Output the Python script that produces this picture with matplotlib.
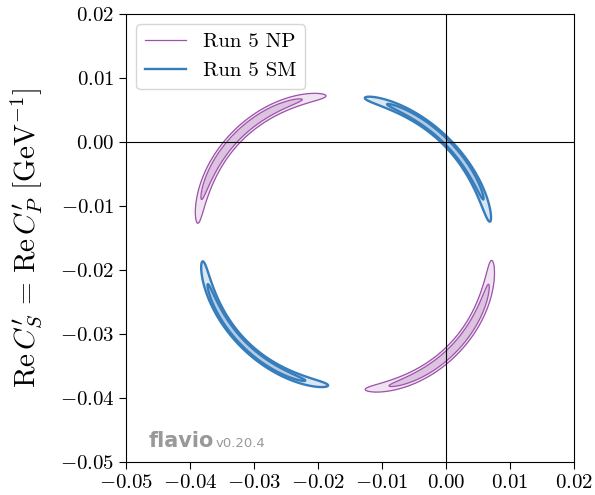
import numpy as np
import matplotlib
matplotlib.use('Agg')
from matplotlib import pyplot as plt
from matplotlib.lines import Line2D

plt.rcParams['font.family'] = 'serif'
plt.rcParams['font.serif'] = ['cmr10']
plt.rcParams['mathtext.fontset'] = 'cm'
plt.rcParams['axes.formatter.use_mathtext'] = True

# centre of the ring (Bs -> mumu rate)
centre = (-0.0158, -0.0158)

labels = ['Run 5 NP', 'Run 5 SM']
line_colors = ['#9d52aa', '#367dbb']
fill_colors = [['#dcc4e1', '#efe3f2'], ['#b4cbe5', '#d9e6f3']]
line_widths = [0.9, 1.7]

# each scenario has two arcs: angle of arc middle (deg), half opening at 2 sigma (deg),
# radius in the middle, radius at the tips, radial width in the middle, widening to the tips
np_theta = [134.8, 315.6]
np_half = [37.5, 37.7]
np_r_mid = [0.0237, 0.0237]
np_r_tip = [0.0232, 0.0231]
np_sigma = [0.00040, 0.00040]
np_widen = [0.0, 0.0]

sm_theta = [45.3, 225.3]
sm_half = [36.9, 38.0]
sm_r_mid = [0.0224, 0.0223]
sm_r_tip = [0.0229, 0.0224]
sm_sigma = [0.00026, 0.00026]
sm_widen = [0.4, 0.4]

levels = [2.30, 6.18]  # 1 and 2 sigma for 2 dof


def arc_chi2(xx, yy, th0, half, r_mid, r_tip, sig, widen, p=3.5):
    dx = xx - centre[0]
    dy = yy - centre[1]
    r = np.hypot(dx, dy)
    th = np.degrees(np.arctan2(dy, dx))
    u = ((th - th0 + 180) % 360 - 180) / half
    R = r_mid + (r_tip - r_mid) * u**2
    s = sig * (1 + widen * u**2)
    return ((r - R) / s)**2 + levels[1] * np.abs(u)**p


x = np.linspace(-0.05, 0.02, 900)
y = np.linspace(-0.05, 0.02, 900)
xx, yy = np.meshgrid(x, y)

scenarios = [
    (np_theta, np_half, np_r_mid, np_r_tip, np_sigma, np_widen),
    (sm_theta, sm_half, sm_r_mid, sm_r_tip, sm_sigma, sm_widen),
]

fig = plt.figure(figsize=(5.95, 4.95), dpi=100)
ax = fig.add_axes([0.2118, 0.0667, 0.7529, 0.905])

for i, sc in enumerate(scenarios):
    z = np.minimum(*[arc_chi2(xx, yy, *[par[k] for par in sc]) for k in range(2)])
    ax.contourf(xx, yy, z, levels=[0, levels[0], levels[1]], colors=fill_colors[i])
    ax.contour(xx, yy, z, levels=levels, colors=line_colors[i], linewidths=line_widths[i])

ax.axhline(0, color='k', lw=0.8, zorder=5)
ax.axvline(0, color='k', lw=0.8, zorder=5)

ax.set_xlim(-0.05, 0.02)
ax.set_ylim(-0.05, 0.02)
ax.set_xticks(np.arange(-0.05, 0.021, 0.01))
ax.set_yticks(np.arange(-0.05, 0.021, 0.01))
ax.xaxis.set_major_formatter(plt.FuncFormatter(lambda v, p: '$%.2f$' % (v + 0.0)))
ax.yaxis.set_major_formatter(plt.FuncFormatter(lambda v, p: '$%.2f$' % (v + 0.0)))
ax.tick_params(labelsize=15, length=5, direction='out')
ax.set_ylabel(r"$\mathrm{Re}\,C_S'\,=\,\mathrm{Re}\,C_P'\ [\mathrm{GeV}^{-1}]$",
              fontsize=21, labelpad=11)

handles = [Line2D([], [], color=line_colors[i], lw=line_widths[i]) for i in range(2)]
ax.legend(handles, labels, loc='upper left', fontsize=15)

ax.text(0.05, 0.033, 'flavio', transform=ax.transAxes, fontsize=15, fontweight='bold',
        color='#999999', family='DejaVu Sans')
ax.text(0.2, 0.033, 'v0.20.4', transform=ax.transAxes, fontsize=9.5,
        color='#999999', family='DejaVu Sans')

fig.savefig('out.png', dpi=100)
